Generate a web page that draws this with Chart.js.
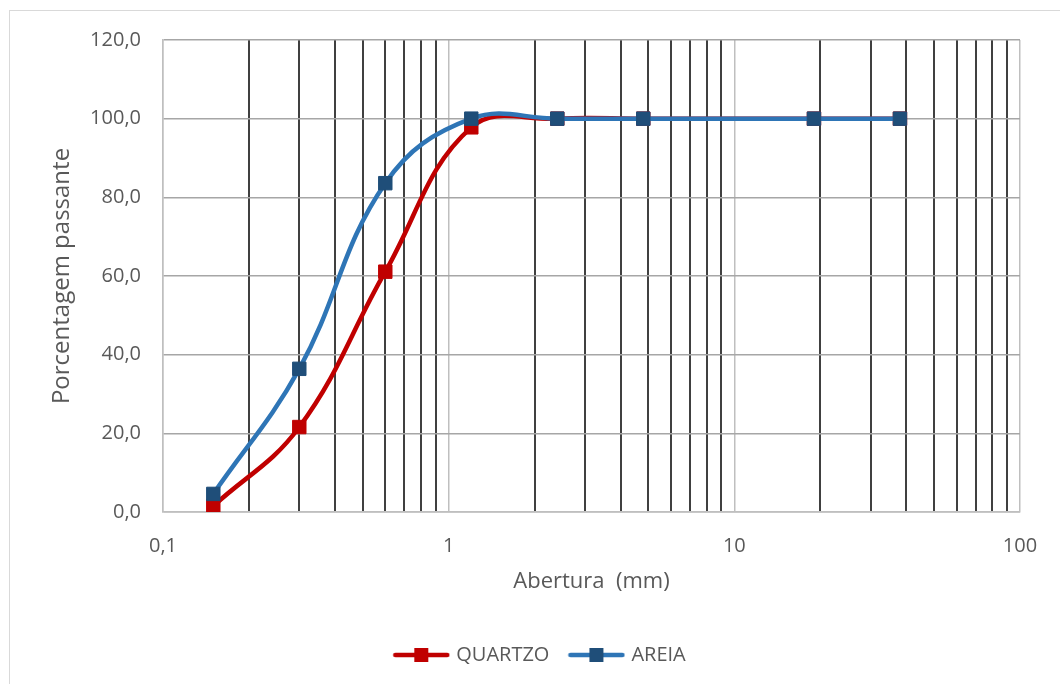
<!DOCTYPE html>
<html>
<head>
<meta charset="utf-8">
<script src="https://cdn.jsdelivr.net/npm/chart.js@4.4.1/dist/chart.umd.min.js"></script>
<style>
  html, body { margin: 0; padding: 0; background: #fff; }
  #frame {
    position: absolute; left: 9px; top: 10px;
    width: 1100px; height: 700px;
    border: 1px solid #d9d9d9; box-sizing: border-box;
  }
  #wrap { position: absolute; left: 0; top: 0; width: 1060px; height: 684px; }
</style>
</head>
<body>
<div id="frame"></div>
<div id="wrap"><canvas id="chart" width="1060" height="684"></canvas></div>
<script>
// ============================================
// DATA
// ============================================

// Sieve openings (mm)
const aberturas = [0.15, 0.3, 0.6, 1.2, 2.4, 4.8, 19, 38];

// Percent passing for each material
const quartzo = [1.5, 21.6, 61.1, 97.8, 100, 100, 100, 100];
const areia = [4.6, 36.4, 83.6, 100, 100, 100, 100, 100];

// Log axis grid positions and labelled decades
const xGridTicks = [
    0.1, 0.2, 0.3, 0.4, 0.5, 0.6, 0.7, 0.8, 0.9,
    1, 2, 3, 4, 5, 6, 7, 8, 9,
    10, 20, 30, 40, 50, 60, 70, 80, 90, 100
];
const xLabelled = [0.1, 1, 10, 100];

// ============================================
// STYLE
// ============================================

const FONT = "'Open Sans', 'Noto Sans', sans-serif";
const TEXT = '#595959';
const RED = '#c00000';
const BLUE_LINE = '#2e75b6';
const BLUE_MARK = '#1f4e79';

function isDecade(v) {
    const l = Math.log10(v);
    return Math.abs(l - Math.round(l)) < 1e-9;
}

function toPoints(xs, ys) {
    return xs.map((x, i) => ({ x: x, y: ys[i] }));
}

// Small canvas used as the legend symbol: line with a square marker
function legendSymbol(lineColor, markColor) {
    const c = document.createElement('canvas');
    c.width = 58;
    c.height = 16;
    const g = c.getContext('2d');
    g.strokeStyle = lineColor;
    g.lineWidth = 4.5;
    g.lineCap = 'round';
    g.beginPath();
    g.moveTo(3, 8);
    g.lineTo(55, 8);
    g.stroke();
    g.fillStyle = markColor;
    g.fillRect(22, 1, 14, 14);
    return c;
}

const symbols = [legendSymbol(RED, RED), legendSymbol(BLUE_LINE, BLUE_MARK)];

// Nudges the legend box to where the original puts it
const legendShift = {
    id: 'legendShift',
    afterLayout(chart) {
        const lg = chart.legend;
        if (!lg) return;
        const dx = 21, dy = 28;
        lg.left += dx; lg.right += dx;
        lg.top += dy; lg.bottom += dy;
    }
};

// ============================================
// CHART
// ============================================

const ctx = document.getElementById('chart').getContext('2d');

const chart = new Chart(ctx, {
    type: 'line',
    data: {
        datasets: [
            {
                label: 'QUARTZO',
                data: toPoints(aberturas, quartzo),
                borderColor: RED,
                backgroundColor: RED,
                pointBackgroundColor: RED,
                pointBorderColor: RED,
                borderWidth: 4.5,
                pointStyle: 'rect',
                pointRadius: 9.5,
                pointBorderWidth: 1,
                tension: 0.4,
                order: 2
            },
            {
                label: 'AREIA',
                data: toPoints(aberturas, areia),
                borderColor: BLUE_LINE,
                backgroundColor: BLUE_MARK,
                pointBackgroundColor: BLUE_MARK,
                pointBorderColor: BLUE_MARK,
                borderWidth: 4.5,
                pointStyle: 'rect',
                pointRadius: 9.5,
                pointBorderWidth: 1,
                tension: 0.4,
                order: 1
            }
        ]
    },
    plugins: [legendShift],
    options: {
        responsive: false,
        animation: false,
        layout: {
            padding: { left: 20, top: 40, right: 40, bottom: 37 }
        },
        scales: {
            x: {
                type: 'logarithmic',
                min: 0.1,
                max: 100,
                afterBuildTicks: (scale) => {
                    scale.ticks = xGridTicks.map(v => ({ value: v }));
                },
                afterFit: (scale) => {
                    scale.height = 83;
                },
                ticks: {
                    autoSkip: false,
                    maxRotation: 0,
                    padding: 22,
                    color: TEXT,
                    font: { family: FONT, size: 20 },
                    callback: (value) => {
                        if (!xLabelled.some(v => Math.abs(v - value) < 1e-9)) return '';
                        return String(value).replace('.', ',');
                    }
                },
                grid: {
                    drawTicks: false,
                    color: (c) => (c.tick && isDecade(c.tick.value)) ? '#bfbfbf' : '#404040',
                    lineWidth: (c) => (c.tick && isDecade(c.tick.value)) ? 1.5 : 2
                },
                border: { color: '#bfbfbf', width: 1.5 },
                title: {
                    display: true,
                    text: 'Abertura  (mm)',
                    color: TEXT,
                    font: { family: FONT, size: 22 },
                    padding: { top: 6, bottom: 0 }
                }
            },
            y: {
                min: 0,
                max: 120,
                afterFit: (scale) => {
                    scale.width = 143;
                },
                ticks: {
                    stepSize: 20,
                    padding: 22,
                    color: TEXT,
                    font: { family: FONT, size: 20 },
                    callback: (value) => value.toFixed(1).replace('.', ',')
                },
                grid: {
                    drawTicks: false,
                    color: '#a6a6a6',
                    lineWidth: 1.5
                },
                border: { color: '#bfbfbf', width: 1.5 },
                title: {
                    display: true,
                    text: 'Porcentagem passante',
                    color: TEXT,
                    font: { family: FONT, size: 24 },
                    padding: { top: 28, bottom: 0 }
                }
            }
        },
        plugins: {
            tooltip: { enabled: false },
            legend: {
                position: 'bottom',
                labels: {
                    usePointStyle: true,
                    pointStyleWidth: 50,
                    boxHeight: 16,
                    padding: 22,
                    color: TEXT,
                    font: { family: FONT, size: 20 },
                    sort: (a, b) => a.datasetIndex - b.datasetIndex,
                    generateLabels: (chart) => chart.data.datasets.map((ds, i) => ({
                        text: ds.label,
                        fillStyle: ds.borderColor,
                        strokeStyle: ds.borderColor,
                        lineWidth: 0,
                        pointStyle: symbols[i],
                        fontColor: TEXT,
                        hidden: false,
                        datasetIndex: i
                    }))
                }
            }
        }
    }
});
</script>
</body>
</html>
